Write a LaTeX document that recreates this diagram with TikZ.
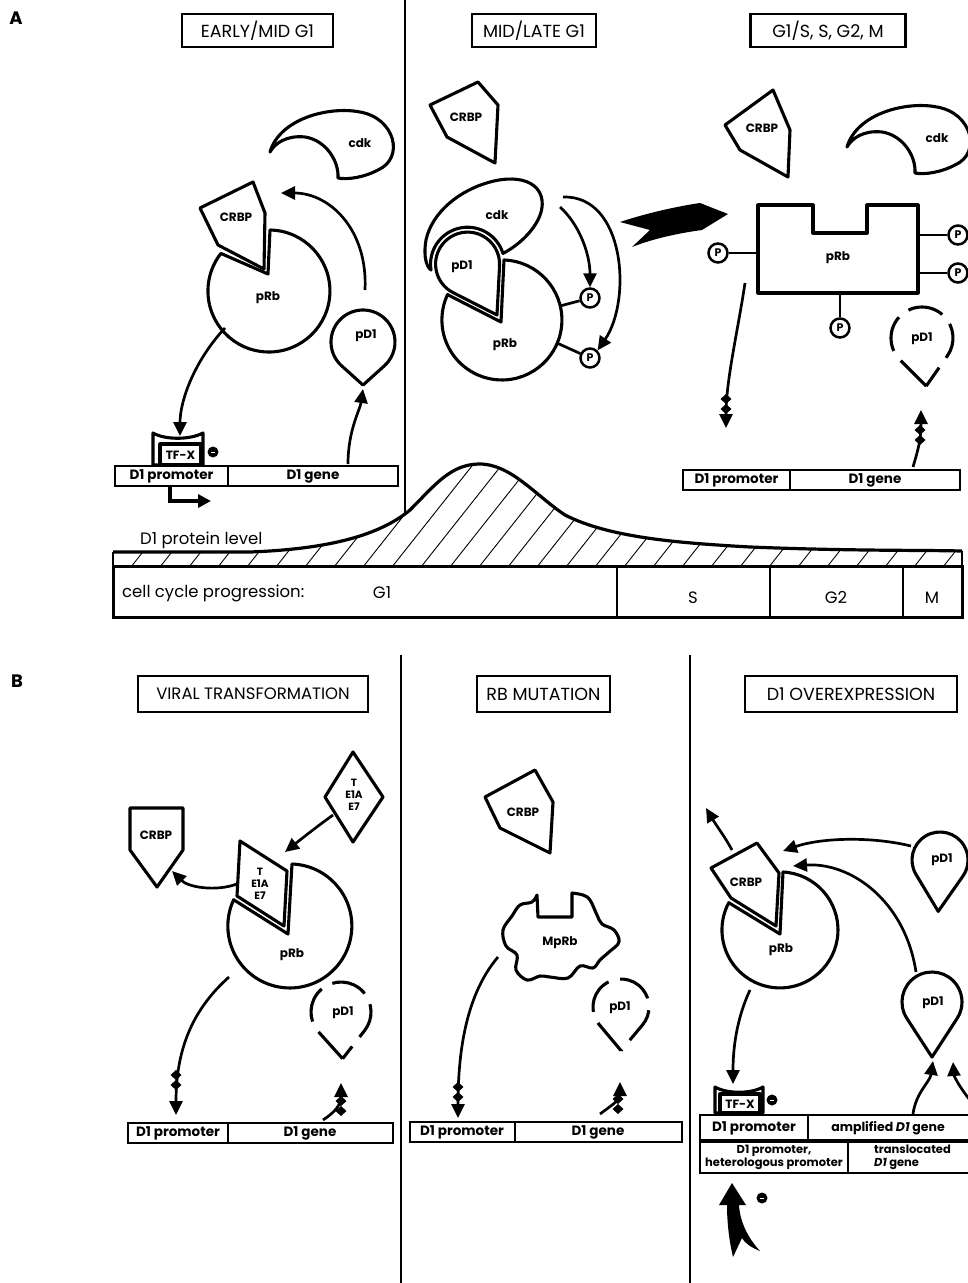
\documentclass[tikz,border=0pt]{standalone}
\usepackage{fontspec}
\setmainfont{Poppins}
\usetikzlibrary{arrows.meta,calc}
\tikzset{
  shp/.style={draw, line width=3.1pt, fill=white, line join=round},
  arr/.style={line width=2.7pt, -{Triangle[length=14pt,width=13pt]}},
  hdr/.style={draw, line width=2.2pt, minimum height=33pt, inner sep=0pt, font=\fontsize{17.5}{19}\selectfont},
  lbl/.style={font=\fontsize{12}{13}\selectfont\bfseries, inner sep=0pt},
  tea/.style={font=\fontsize{10.5}{12}\selectfont\bfseries, inner sep=0pt, align=center},
  gtxt/.style={font=\fontsize{13.5}{15}\selectfont\bfseries, inner sep=0pt},
  stxt/.style={font=\fontsize{11.5}{12.5}\selectfont\bfseries, inner sep=0pt},
  pc/.style={circle, draw, line width=2.5pt, fill=white, inner sep=0pt, minimum size=19pt, font=\fontsize{11}{11}\selectfont\bfseries},
  blk/.pic={\fill (0,-10) -- (5.5,-5) -- (0,0) -- (-5.5,-5) -- cycle (0,0) -- (5.5,5) -- (0,10) -- (-5.5,5) -- cycle;},
  gbar/.style={draw, line width=2.8pt},
  big/.style={font=\fontsize{16.5}{18}\selectfont, inner sep=0pt},
  dashone/.style={fill=none, dash pattern=on 36pt off 12pt},
  plink/.style={line width=2.7pt},
}
\newcommand{\tdrop}[6][]{\draw[shp,#1,shift={(#2,#3)}] ({#5}:{#4/cos(#6)}) -- ({#5+#6}:#4) arc[start angle={#5+#6}, end angle={#5+360-#6}, radius=#4] -- cycle;}
\newcommand{\sdot}[2]{\fill (#1,#2) circle[radius=5.5]; \draw[white,line width=0.6pt] ({#1-2},#2)--({#1+2},#2);}
\newcommand{\cdkpath}{(270,152) .. controls (280,118) and (330,106) .. (360,112) .. controls (395,118) and (405,158) .. (378,170) .. controls (365,177) and (348,180) .. (338,178) .. controls (339,160) and (325,140) .. (305,137) .. controls (287,135) and (275,143) .. (270,152) -- cycle}
\newcommand{\dcurve}{(113,552) -- (250,552) .. controls (330,549) and (380,535) .. (410,510) .. controls (435,485) and (450,465) .. (478,464) .. controls (510,463) and (535,495) .. (565,515) .. controls (610,538) and (680,543) .. (750,547) .. controls (850,551) and (920,550) .. (962,551)}
\begin{document}
\begin{tikzpicture}[x=1pt,y=-1pt]
\useasboundingbox (0,0) rectangle (967,1283);
\fill[white] (0,0) rectangle (967,1283);

% panel letters
\node[font=\fontsize{18}{18}\selectfont\bfseries] (lA) at (16,18) {A};
\node[font=\fontsize{18}{18}\selectfont\bfseries] (lB) at (17,681) {B};

% dividers
\draw[line width=1.2pt] (405,0) -- (405,515);
\draw[line width=1.2pt] (401,655) -- (401,1283);
\draw[line width=1.2pt] (690,655) -- (690,1283);

% headers
\node[hdr, minimum width=151pt] (h1) at (257.5,30.5) {EARLY/MID G1};
\node[hdr, minimum width=124pt] (h2) at (534,30.5) {MID/LATE G1};
\node[hdr, minimum width=155pt] (h3) at (828,30.5) {G1/S, S, G2, M};
\node[hdr, minimum width=230pt, minimum height=36pt, font=\fontsize{16.5}{18}\selectfont] (h4) at (253,694) {VIRAL TRANSFORMATION};
\node[hdr, minimum width=133pt, minimum height=36pt] (h5) at (543.5,694) {RB MUTATION};
\node[hdr, minimum width=212pt, minimum height=36pt] (h6) at (851,694) {D1 OVEREXPRESSION};

%%%%%%%% A: EARLY/MID G1
\draw[shp] \cdkpath;
\node[lbl] (cdk1) at (360,143) {cdk};
\draw[shp] (268,274) -- (270,230) arc[start angle=271, end angle=578, radius=61] -- cycle;
\node[lbl] (prb1) at (268,298) {pRb};
\draw[shp] (200,208) -- (253,182) -- (265,213) -- (264,269) -- (218,245) -- cycle;
\node[lbl] (crbp1) at (236,217) {CRBP};
\tdrop{363}{342}{32}{90}{42}
\node[lbl] (pd1a) at (366,336) {pD1};
\draw[arr] (365,290) .. controls (368,230) and (330,193) .. (281,193);
\draw[arr] (225,328) .. controls (195,360) and (180,400) .. (180,436);
\draw[arr] (348,464) .. controls (348,430) and (360,410) .. (363,389);
\draw[shp] (153,433) .. controls (165,440) and (190,440) .. (203,433) -- (203,465) -- (153,465) -- cycle;
\draw[shp] (160,444) rectangle (201,465);
\node[lbl] (tfx1) at (180.5,455) {TF-X};
\sdot{213}{452}
\draw[gbar, fill=white] (115,466) rectangle (398,486);
\draw[gbar] (228,466) -- (228,486);
\node[gtxt] (prom1) at (171.5,476.5) {D1 promoter};
\node[gtxt] (gene1) at (313,476.5) {D1 gene};
\draw[line width=3.2pt, -{Triangle[length=13pt,width=13pt]}] (170,487) -- (170,501) -- (211,501);

%%%%%%%% A: MID/LATE G1
\draw[shp] (430,105) -- (478,82) -- (498,105) -- (495,163) -- (447,137) -- cycle;
\node[lbl] (crbp2) at (466,117) {CRBP};
\draw[shp] (431,270) arc[start angle=171, end angle=343, radius=37] .. controls (520,245) and (545,222) .. (542,200) .. controls (539,180) and (515,175) .. (490,182) .. controls (460,190) and (432,212) .. (426,240) .. controls (423,258) and (427,267) .. (431,270) -- cycle;
\node[lbl] (cdk2) at (497,215) {cdk};
\draw[shp] (501,322) -- (504,260) arc[start angle=272, end angle=565, radius=60] -- cycle;
\node[lbl] (prb2) at (505,345) {pRb};
\tdrop{467.6}{264.1}{32}{60}{57}
\node[lbl] (pd1b) at (462,267) {pD1};
\node[pc] (pa) at (590,298) {P};
\node[pc] (pb) at (590,358) {P};
\draw[plink] (560,306) -- (pa);
\draw[plink] (557,343) -- (pb);
\draw[arr] (560,207) .. controls (580,225) and (590,255) .. (pa.north);
\draw[arr] (563,197) .. controls (625,195) and (632,300) .. (pb.north east);
\fill (620,222) .. controls (650,212) and (680,206) .. (700,203) -- (728,214) -- (702,230) .. controls (680,233) and (655,238) .. (632,247) -- (650,230) -- cycle;

%%%%%%%% A: G1/S, S, G2, M
\draw[shp] (725,125) -- (773,90) -- (790,130) -- (788,177) -- (740,150) -- cycle;
\node[lbl] (crbp3) at (762,128) {CRBP};
\draw[shp, shift={(577,-5)}] \cdkpath;
\node[lbl] (cdk3) at (937,138) {cdk};
\draw[shp] (758,205) -- (813,205) -- (813,233) -- (867,233) -- (867,205) -- (918,205) -- (918,293) -- (758,293) -- cycle;
\node[lbl] (prb3) at (838,258) {pRb};
\node[pc] (pc1) at (718,253) {P};
\node[pc] (pc2) at (958,235) {P};
\node[pc] (pc3) at (958,273) {P};
\node[pc] (pc4) at (840,328) {P};
\draw[plink] (758,253) -- (pc1);
\draw[plink] (918,235) -- (pc2);
\draw[plink] (918,273) -- (pc3);
\draw[plink] (840,293) -- (pc4);
\tdrop[dashone]{922}{338}{31}{85}{50}
\node[lbl] (pd1c) at (922,339) {pD1};
\draw[arr] (745,283) .. controls (738,330) and (726,380) .. (726,428);
\pic at (726,404) {blk};
\draw[arr] (913,467) .. controls (918,450) and (921,440) .. (921,410);
\pic at (920,435) {blk};
\draw[gbar, fill=white] (683,470) rectangle (960,490);
\draw[gbar] (790,470) -- (790,490);
\node[gtxt] (prom3) at (736.5,480.5) {D1 promoter};
\node[gtxt] (gene3) at (875,480.5) {D1 gene};

%%%%%%%% D1 protein level curve
\begin{scope}
\clip \dcurve -- (962,566) -- (113,566) -- cycle;
\foreach \i in {0,...,34} \draw[line width=0.9pt] ({40+\i*29},572) -- ({40+\i*29+95},452);
\end{scope}
\draw[line width=3.2pt] \dcurve;
\draw[line width=1.6pt] (113,552) -- (113,566);
\draw[line width=1.6pt] (962,551) -- (962,566);
\node[big, anchor=west] (dlevel) at (140,540) {D1 protein level};
\draw[line width=3pt] (113,566) rectangle (962,617);
\draw[line width=2.4pt] (617,566) -- (617,617);
\draw[line width=2.4pt] (770,566) -- (770,617);
\draw[line width=2.4pt] (903,566) -- (903,617);
\node[big, anchor=west] (ccp) at (122,593) {cell cycle progression:};
\node[big] (cg1) at (382,593) {G1};
\node[big] (cs) at (693,598) {S};
\node[big] (cg2) at (836,597) {G2};
\node[big] (cm) at (932,598) {M};

%%%%%%%% B: VIRAL TRANSFORMATION
\draw[arr] (333,815) .. controls (315,828) and (300,840) .. (285,852);
\draw[shp] (353,752) -- (383,797) -- (353,842) -- (325,797) -- cycle;
\node[tea] (tea1) at (354,795) {T\\E1A\\E7};
\draw[shp] (130,808) -- (183,808) -- (183,850) -- (157,887) -- (130,850) -- cycle;
\node[lbl] (crbp4) at (156,835) {CRBP};
\draw[shp] (288,934) -- (292,864) arc[start angle=272, end angle=565, radius=62] -- cycle;
\node[lbl] (prb4) at (292,955) {pRb};
\draw[arr] (237,884) .. controls (215,892) and (188,887) .. (172,871);
\draw[shp] (284,926) -- (287,871) -- (240,841) -- (237,896) -- cycle;
\node[tea] (tea2) at (260,884) {T\\E1A\\E7};
\draw[arr] (229,977) .. controls (192,1010) and (176,1050) .. (176,1115);
\pic at (176,1080) {blk};
\tdrop[dashone]{341}{1012}{30}{88}{50}
\node[lbl] (pd1d) at (343,1013) {pD1};
\draw[arr] (323,1120) .. controls (335,1112) and (341,1105) .. (341,1083);
\pic at (341,1106) {blk};
\draw[gbar, fill=white] (128,1123) rectangle (393,1143);
\draw[gbar] (228,1123) -- (228,1143);
\node[gtxt] (prom4) at (178,1133) {D1 promoter};
\node[gtxt] (gene4) at (310,1133) {D1 gene};

%%%%%%%% B: RB MUTATION
\draw[shp] (485,797) -- (535,770) -- (553,802) -- (550,853) -- (500,828) -- cycle;
\node[lbl] (crbp5) at (523,812) {CRBP};
\draw[shp] (537,895) -- (538,917) -- (572,917) -- (572,893) -- plot[smooth, tension=0.6] coordinates {(572,893) (583,895) (590,900) (597,915) (602,924) (614,930) (619,942) (609,952) (600,960) (593,968) (580,966) (568,978) (550,977) (540,976) (527,980) (516,970) (517,955) (506,946) (503,930) (512,916) (520,905) (532,902) (537,895)} -- cycle;
\node[lbl] (mprb) at (560,943) {MpRb};
\draw[arr] (498,957) .. controls (470,990) and (458,1040) .. (458,1118);
\pic at (458,1092) {blk};
\tdrop[dashone]{621}{1007}{28}{90}{50}
\node[lbl] (pd1e) at (620,1008) {pD1};
\draw[arr] (600,1114) .. controls (612,1105) and (620,1100) .. (620,1082);
\pic at (618,1104) {blk};
\draw[gbar, fill=white] (410,1122) rectangle (682,1142);
\draw[gbar] (515,1122) -- (515,1142);
\node[gtxt] (prom5) at (462,1132) {D1 promoter};
\node[gtxt] (gene5) at (598,1132) {D1 gene};

%%%%%%%% B: D1 OVEREXPRESSION
\draw[arr] (732,850) .. controls (725,837) and (716,825) .. (706,808);
\draw[shp] (780,934) -- (783,872) arc[start angle=273, end angle=568, radius=58] -- cycle;
\draw[shp] (776,926) -- (779,873) -- (757,843) -- (711,868) -- (731,898) -- cycle;
\node[lbl] (crbp6) at (746,882) {CRBP};
\node[lbl] (prb6) at (781,950) {pRb};
\tdrop{940}{860}{28}{92}{57}
\node[lbl] (pd1f) at (942,860) {pD1};
\tdrop{932}{1002}{30}{90}{57}
\node[lbl] (pd1g) at (933,1003) {pD1};
\draw[arr] (911,846) .. controls (870,836) and (820,838) .. (783,851);
\draw[arr] (916,972) .. controls (905,900) and (850,862) .. (793,866);
\draw[arr] (750,990) .. controls (736,1020) and (733,1050) .. (733,1084);
\draw[shp] (715,1087) .. controls (727,1094) and (751,1094) .. (763,1087) -- (763,1113) -- (715,1113) -- cycle;
\draw[shp] (720,1094) rectangle (760,1113);
\node[lbl] (tfx2) at (740,1104) {TF-X};
\sdot{772}{1100}
\draw[gbar, fill=white] (700,1115) rectangle (975,1140);
\draw[gbar] (808,1115) -- (808,1140);
\draw[gbar, fill=white] (700,1142) rectangle (975,1173);
\draw[gbar] (848,1142) -- (848,1173);
\node[gtxt] (prom6) at (754,1128) {D1 promoter};
\node[font=\fontsize{12.5}{14}\selectfont\bfseries, inner sep=0pt] (gene6) at (888,1128) {amplified \textit{D1} gene};
\node[stxt, align=center] (prom7) at (774,1157.5) {D1 promoter,\\heterologous promoter};
\node[stxt, align=left, anchor=west] (gene7) at (874,1157.5) {translocated\\\textit{D1} gene};
\draw[arr] (913,1114) .. controls (916,1092) and (930,1082) .. (933,1061);
\draw[arr] (970,1100) .. controls (960,1088) and (954,1076) .. (953,1062);
\fill (732,1183) -- (746,1205) -- (739,1205) .. controls (740,1222) and (748,1238) .. (760,1251) .. controls (750,1247) and (745,1243) .. (742,1238) -- (733,1257) .. controls (729,1240) and (727,1222) .. (727,1205) -- (719,1205) -- cycle;
\sdot{762}{1198}
\end{tikzpicture}
\end{document}
